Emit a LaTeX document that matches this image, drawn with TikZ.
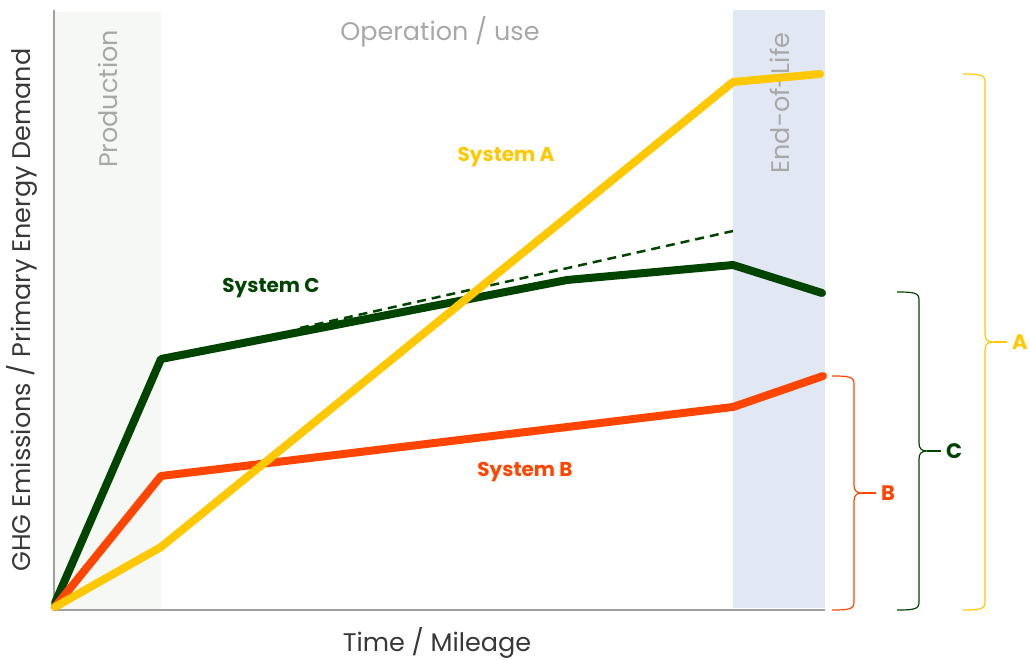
\documentclass[tikz,border=0pt]{standalone}
\usepackage{fontspec}
\setmainfont{Poppins}
\definecolor{sysA}{HTML}{FFC800}
\definecolor{sysB}{HTML}{FF4500}
\definecolor{sysC}{HTML}{004400}
\definecolor{phasetext}{HTML}{A8A8A8}
\definecolor{axisgray}{HTML}{A0A0A0}
\definecolor{prodfill}{HTML}{F6F8F5}
\definecolor{eolfill}{HTML}{E1E7F3}
\tikzset{
  curve/.style={line width=8pt, line join=round, line cap=round},
  phase/.style={text=phasetext, font=\fontsize{25.5}{27}\selectfont},
  axislabel/.style={text=black!78, font=\fontsize{25.5}{27}\selectfont},
  syslabel/.style={font=\bfseries\fontsize{20}{22}\selectfont},
  bracelabel/.style={font=\bfseries\fontsize{21}{23}\selectfont, anchor=west, inner sep=0pt}
}
\begin{document}
\begin{tikzpicture}[x=1pt,y=-1pt]
\useasboundingbox (0,0) rectangle (1029,660);
% Life cycle phases
\fill[prodfill] (54,12) rectangle (161,610);
\fill[eolfill] (733,10) rectangle (825,608);
\node[phase, rotate=90] (prod) at (108,99) {Production};
\node[phase] (oper) at (440,32) {Operation / use};
\node[phase, rotate=90] (eol) at (780,103) {End-of-Life};
% Axes
\draw[axisgray, line width=2pt] (54,10) -- (54,610) -- (825,610);
\node[axislabel, rotate=90] (ylab) at (22,310) {GHG Emissions / Primary Energy Demand};
\node[axislabel] (xlab) at (437,643) {Time / Mileage};
% Reference trend of system C
\draw[sysC, line width=2.5pt, dash pattern=on 9pt off 6pt] (300,328) -- (733,231);
% Curves
\draw[curve, sysC] (55,603) -- (161,359) -- (567,280) -- (733,265) -- (822,293);
\draw[curve, sysB] (55,607) -- (161,476) -- (733,407) -- (823,376);
\draw[curve, sysA] (55,607) -- (161,547) -- (733,82) -- (820,74);
\node[syslabel, text=sysA] (labA) at (506,157) {System A};
\node[syslabel, text=sysC] (labC) at (271,288) {System C};
\node[syslabel, text=sysB] (labB) at (525,472) {System B};
% Braces
\foreach \ytop/\ybot/\xl/\ymid/\col/\name in {376/610/832/493/sysB/B, 292/610/897/451/sysC/C, 74/610/963/342/sysA/A}{
  \draw[\col, line width=1.2pt] (\xl,\ytop) .. controls (\xl+18,\ytop) and (\xl+22,\ytop+1) .. (\xl+22,\ytop+8)
    -- (\xl+22,\ymid-8) .. controls (\xl+22,\ymid-2) and (\xl+25,\ymid) .. (\xl+30,\ymid)
    .. controls (\xl+25,\ymid) and (\xl+22,\ymid+2) .. (\xl+22,\ymid+8)
    -- (\xl+22,\ybot-8) .. controls (\xl+22,\ybot-1) and (\xl+18,\ybot) .. (\xl,\ybot);
  \draw[\col, line width=1.2pt] (\xl+30,\ymid) -- (\xl+44,\ymid);
  \node[bracelabel, text=\col] (br\name) at (\xl+49,\ymid) {\name};
}
\end{tikzpicture}
\end{document}
